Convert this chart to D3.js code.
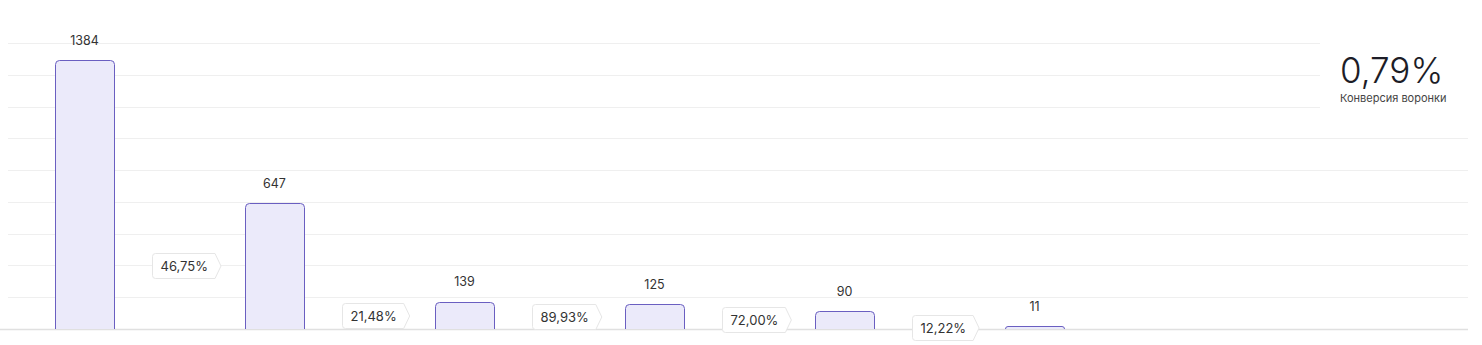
<!DOCTYPE html>
<html>
<head>
<meta charset="utf-8">
<script src="https://cdn.jsdelivr.net/npm/d3@7"></script>
<style>
  html, body { margin: 0; padding: 0; background: #fff; }
  svg { display: block; font-family: Inter, Roboto, "Noto Sans", sans-serif; }
</style>
</head>
<body>
<div id="chart"></div>
<script>
// funnel stages and counts
const stages = ['Этап 1', 'Этап 2', 'Этап 3', 'Этап 4', 'Этап 5', 'Этап 6'];
const counts = [1384, 647, 139, 125, 90, 11];
const summaryLabel = 'Конверсия воронки';

const W = 1482, H = 345;
const plotBottom = 329, plotTop = 43;
const yMax = 1476, gridDivs = 9;

const svg = d3.select('#chart').append('svg')
  .attr('width', W).attr('height', H);

const x = d3.scaleBand()
  .domain(stages)
  .range([-10.5, 1129.5])
  .paddingInner(0.69)
  .paddingOuter(0.345);

const y = d3.scaleLinear()
  .domain([0, yMax])
  .range([plotBottom, plotTop]);

const fmt = v => d3.format('.2f')(v).replace('.', ',');

//gridlines
const grid = d3.range(1, gridDivs + 1).map(i => yMax * i / gridDivs);
svg.append('g').attr('class', 'grid')
  .selectAll('line').data(grid).enter().append('line')
    .attr('x1', 8).attr('x2', 1468)
    .attr('y1', d => Math.round(y(d)) + 0.5)
    .attr('y2', d => Math.round(y(d)) + 0.5)
    .style('stroke', '#efefef')
    .style('stroke-width', 1);

//baseline
svg.append('line')
  .attr('x1', 0).attr('x2', 1468)
  .attr('y1', plotBottom + 0.5).attr('y2', plotBottom + 0.5)
  .style('stroke', '#e0e0e0')
  .style('stroke-width', 1.5);

//bars with rounded top corners
function barPath(x0, w, y0, y1) {
  const r = Math.min(4, (y1 - y0));
  return 'M' + x0 + ',' + y1 +
    'V' + (y0 + r) +
    'Q' + x0 + ',' + y0 + ' ' + (x0 + r) + ',' + y0 +
    'H' + (x0 + w - r) +
    'Q' + (x0 + w) + ',' + y0 + ' ' + (x0 + w) + ',' + (y0 + r) +
    'V' + y1;
}

const bw = Math.round(x.bandwidth());
svg.append('g').attr('class', 'bars')
  .selectAll('path').data(counts).enter().append('path')
    .attr('d', (d, i) => barPath(Math.round(x(stages[i])) + 0.5, bw, Math.floor(y(d)) + 0.5, plotBottom))
    .style('fill', '#ebeafa')
    .style('stroke', '#6a5fc1')
    .style('stroke-width', 1);

//value labels
svg.append('g').attr('class', 'values')
  .selectAll('text').data(counts).enter().append('text')
    .attr('x', (d, i) => x(stages[i]) + x.bandwidth() / 2)
    .attr('y', d => y(d) - 16)
    .attr('text-anchor', 'middle')
    .style('font-size', '12.5px')
    .style('fill', '#333')
    .text(d => d);

//step conversion tags
const steps = counts.slice(1).map((d, i) => ({ i: i + 1, value: d, pct: d / counts[i] * 100 }));
const tags = svg.append('g').attr('class', 'tags')
  .selectAll('g').data(steps).enter().append('g')
    .attr('transform', d => 'translate(' + (Math.round(x(stages[d.i - 1]) + x.bandwidth() + 38) + 0.5) + ',' +
      (Math.round((y(d.value) + plotBottom) / 2) - 12.5) + ')');

const shapes = tags.append('path');
const labels = tags.append('text')
  .attr('x', 8).attr('y', 17)
  .style('font-size', '13px')
  .style('fill', '#333')
  .text(d => fmt(d.pct) + '%');

shapes.attr('d', function(d, i) {
  const w = labels.nodes()[i].getComputedTextLength() + 15;
  const h = 25, r = 3;
  return 'M' + r + ',0H' + w + 'L' + (w + 6) + ',' + (h / 2) + 'L' + w + ',' + h +
    'H' + r + 'Q0,' + h + ' 0,' + (h - r) + 'V' + r + 'Q0,0 ' + r + ',0Z';
})
  .style('fill', '#fff')
  .style('stroke', '#e6e6e6')
  .style('stroke-width', 1);

//summary panel
const panel = svg.append('g').attr('class', 'summary');
panel.append('rect')
  .attr('x', 1320).attr('y', 30).attr('width', 150).attr('height', 90)
  .style('fill', '#fff');
panel.append('text')
  .attr('x', 1340).attr('y', 83)
  .style('font-size', '35px')
  .style('font-weight', 300)
  .style('fill', '#1d1d27')
  .text(fmt(counts[counts.length - 1] / counts[0] * 100) + '%');
panel.append('text')
  .attr('x', 1340).attr('y', 102)
  .style('font-size', '11px')
  .style('fill', '#444')
  .text(summaryLabel);
</script>
</body>
</html>
